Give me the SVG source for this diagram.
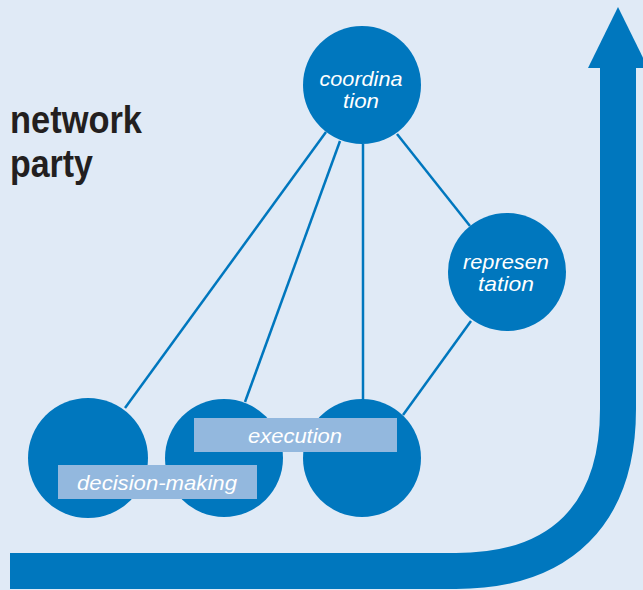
<svg xmlns="http://www.w3.org/2000/svg" width="643" height="590" viewBox="0 0 643 590">
<style>
.bg{fill:#e0eaf6}
.node{fill:#0077be}
.conn{stroke:#0077be;stroke-width:2.5;fill:none}
.lbl{fill:#ffffff;font-family:"Liberation Sans",Arial,sans-serif;font-style:italic;font-size:21px;text-anchor:middle}
.box{fill:#93b8de}
.title{fill:#231f20;font-family:"Liberation Sans",Arial,sans-serif;font-weight:bold;font-size:38px}
</style>
<rect class="bg" x="0" y="0" width="643" height="590"/>
<g id="big-arrow">
<path d="M10,571 H456 C561,571 618,514 618,409 V66" fill="none" stroke="#0077be" stroke-width="36"/>
<polygon points="588,68 618,7 648,68" fill="#0077be"/>
</g>
<g id="title">
<text class="title" x="10" y="133" textLength="132" lengthAdjust="spacingAndGlyphs">network</text>
<text class="title" x="10" y="177" textLength="83" lengthAdjust="spacingAndGlyphs">party</text>
</g>
<g id="connectors">
<line class="conn" x1="326" y1="132" x2="125" y2="408"/>
<line class="conn" x1="340" y1="141" x2="245" y2="402"/>
<line class="conn" x1="363" y1="144" x2="363" y2="400"/>
<line class="conn" x1="397" y1="134" x2="470" y2="226"/>
<line class="conn" x1="471" y1="321" x2="403" y2="415"/>
</g>
<g id="coordination">
<circle class="node" cx="362" cy="85" r="59"/>
<text class="lbl" x="361" y="86" textLength="83" lengthAdjust="spacingAndGlyphs">coordina</text>
<text class="lbl" x="361" y="108" textLength="36" lengthAdjust="spacingAndGlyphs">tion</text>
</g>
<g id="representation">
<circle class="node" cx="507" cy="272" r="59"/>
<text class="lbl" x="506" y="269" textLength="86" lengthAdjust="spacingAndGlyphs">represen</text>
<text class="lbl" x="506" y="291" textLength="56" lengthAdjust="spacingAndGlyphs">tation</text>
</g>
<g id="circle-1"><circle class="node" cx="88" cy="458" r="60"/></g>
<g id="circle-2"><circle class="node" cx="224" cy="458" r="59"/></g>
<g id="circle-3"><circle class="node" cx="362" cy="458" r="59"/></g>
<g id="execution">
<rect class="box" x="194" y="418" width="203" height="34"/>
<text class="lbl" x="295" y="443" textLength="94" lengthAdjust="spacingAndGlyphs">execution</text>
</g>
<g id="decision-making">
<rect class="box" x="58" y="465" width="199" height="34"/>
<text class="lbl" x="157" y="490" textLength="160" lengthAdjust="spacingAndGlyphs">decision-making</text>
</g>
</svg>
